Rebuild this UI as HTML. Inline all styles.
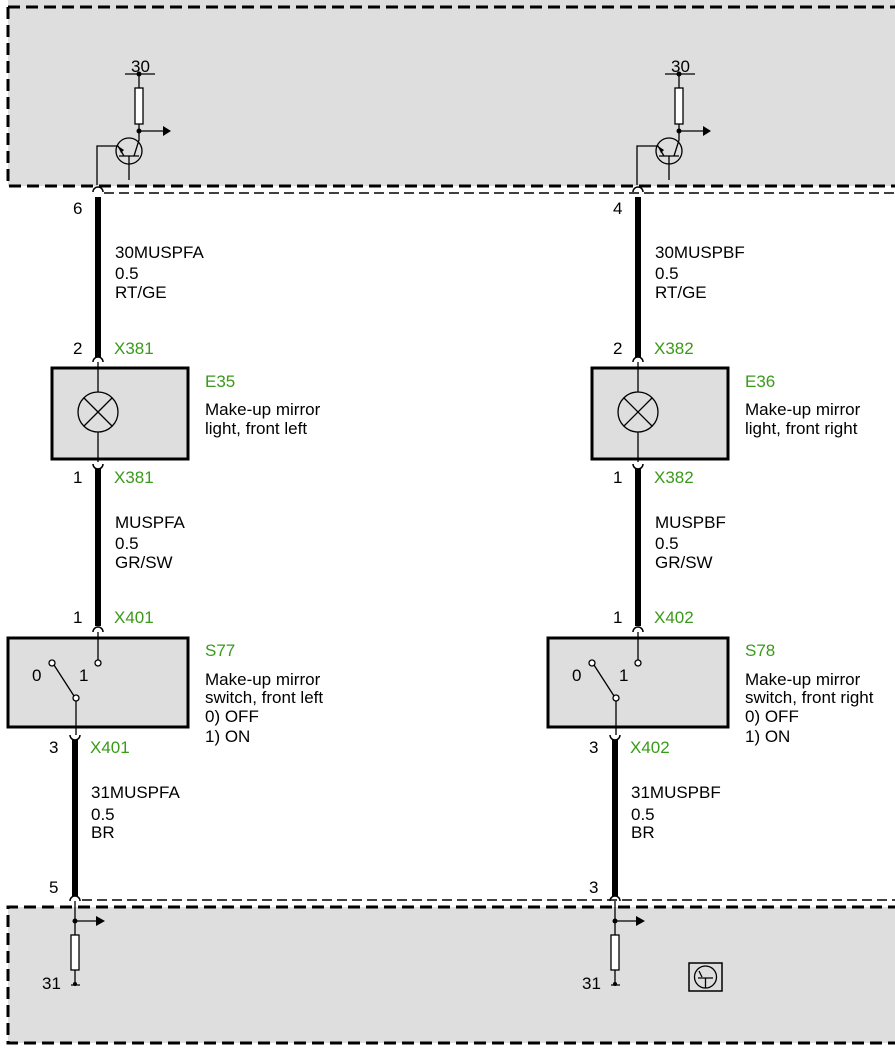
<!DOCTYPE html>
<html><head><style>
body{margin:0;background:#fff}
svg{display:block;font-family:"Liberation Sans",sans-serif;font-size:17px}
.g{fill:#3a9a1a}
</style></head><body>
<svg width="895" height="1050" viewBox="0 0 895 1050" xmlns="http://www.w3.org/2000/svg">
<rect x="8" y="-10" width="900" height="196" fill="#dedede"/>
<path d="M8 7 H900 M8 7 V186 H900" fill="none" stroke="#000" stroke-width="3" stroke-dasharray="12,6"/>
<path d="M104 193 H900" stroke="#000" stroke-width="1.5" stroke-dasharray="10,5"/>
<rect x="8" y="907" width="900" height="136" fill="#dedede"/>
<path d="M900 907 H8 V1043 H900" fill="none" stroke="#000" stroke-width="3" stroke-dasharray="12,6"/>
<path d="M82 900 H900" stroke="#000" stroke-width="1.5" stroke-dasharray="10,5"/>
<rect x="689" y="963" width="33" height="28" fill="none" stroke="#000" stroke-width="1.5"/>
<circle cx="705.5" cy="977" r="11" fill="none" stroke="#000" stroke-width="1.3"/>
<path d="M698 978 H713 M705.5 978 V988 M699 971 L702 977" stroke="#000" stroke-width="1.3" fill="none"/>

<g id="col">
<path d="M125 74 H155 M139 74 V88 M139 124 V131 H165" stroke="#000" stroke-width="1.3" fill="none"/>
<circle cx="139" cy="74" r="2.5"/><circle cx="139" cy="131" r="2.5"/>
<rect x="135" y="88" width="8" height="36" fill="#fff" stroke="#000" stroke-width="1.3"/>
<path d="M163 126 L171 131 L163 136 Z"/>
<text x="131" y="72">30</text>
<circle cx="129" cy="151" r="13" fill="none" stroke="#000" stroke-width="1.3"/>
<path d="M97 185 V146 H118 L124 156 M139 131 V140 L134 156 M119 156 H139 M129 156 V180" stroke="#000" stroke-width="1.3" fill="none"/>
<path d="M118 146 L124 150 L121 153 Z"/>
<path d="M93 192 A5 5 0 0 1 103 192" fill="none" stroke="#000" stroke-width="1.5"/>
<path d="M98 197 V357" stroke="#000" stroke-width="6"/>
<path d="M93 362 A5 5 0 0 1 103 362" fill="none" stroke="#000" stroke-width="1.5"/>
<text x="73" y="214">6</text>
<text x="115" y="258">30MUSPFA</text><text x="115" y="279">0.5</text><text x="115" y="298">RT/GE</text>
<text x="73" y="354">2</text><text x="114" y="354" class="g">X381</text>
<rect x="52" y="368" width="136" height="91" fill="#dedede" stroke="#000" stroke-width="3"/>
<path d="M98 362 V392 M98 432 V462" stroke="#000" stroke-width="1.3"/>
<circle cx="98" cy="412" r="20" fill="none" stroke="#000" stroke-width="1.3"/>
<path d="M84 398 L112 426 M112 398 L84 426" stroke="#000" stroke-width="1.3"/>
<text x="205" y="387" class="g">E35</text>
<text x="205" y="415">Make-up mirror</text><text x="205" y="434">light, front left</text>
<path d="M93 464 A5 5 0 0 0 103 464" fill="none" stroke="#000" stroke-width="1.5"/>
<path d="M98 469 V626" stroke="#000" stroke-width="6"/>
<text x="73" y="483">1</text><text x="114" y="483" class="g">X381</text>
<text x="115" y="528">MUSPFA</text><text x="115" y="549">0.5</text><text x="115" y="568">GR/SW</text>
<text x="73" y="623">1</text><text x="114" y="623" class="g">X401</text>
<path d="M93 632 A5 5 0 0 1 103 632" fill="none" stroke="#000" stroke-width="1.5"/>
<rect x="8" y="638" width="180" height="89" fill="#dedede" stroke="#000" stroke-width="3"/>
<path d="M98 632 V660 M76 701 V735 M54 665 L74 696" stroke="#000" stroke-width="1.3"/>
<circle cx="98" cy="663" r="3" fill="#fff" stroke="#000" stroke-width="1.3"/>
<circle cx="52" cy="663" r="3" fill="#fff" stroke="#000" stroke-width="1.3"/>
<circle cx="76" cy="698" r="3" fill="#fff" stroke="#000" stroke-width="1.3"/>
<text x="32" y="681">0</text><text x="79" y="681">1</text>
<text x="205" y="656" class="g">S77</text>
<text x="205" y="685">Make-up mirror</text><text x="205" y="703">switch, front left</text>
<text x="205" y="722">0) OFF</text><text x="205" y="742">1) ON</text>
<path d="M70 735 A5 5 0 0 0 80 735" fill="none" stroke="#000" stroke-width="1.5"/>
<path d="M75 740 V896" stroke="#000" stroke-width="6"/>
<text x="49" y="753">3</text><text x="90" y="753" class="g">X401</text>
<text x="91" y="798">31MUSPFA</text><text x="91" y="820">0.5</text><text x="91" y="838">BR</text>
<text x="49" y="893">5</text>
<path d="M70 901 A5 5 0 0 1 80 901" fill="none" stroke="#000" stroke-width="1.5"/>
<path d="M75 901 V935 M75 921 H97 M75 970 V984 M71 985 H80" stroke="#000" stroke-width="1.3"/>
<circle cx="75" cy="921" r="2.5"/><circle cx="75" cy="984" r="2"/>
<path d="M96 916 L105 921 L96 926 Z"/>
<rect x="71" y="935" width="8" height="35" fill="#fff" stroke="#000" stroke-width="1.3"/>
<text x="42" y="989">31</text>
</g>
<g transform="translate(540,0)">
<path d="M125 74 H155 M139 74 V88 M139 124 V131 H165" stroke="#000" stroke-width="1.3" fill="none"/>
<circle cx="139" cy="74" r="2.5"/><circle cx="139" cy="131" r="2.5"/>
<rect x="135" y="88" width="8" height="36" fill="#fff" stroke="#000" stroke-width="1.3"/>
<path d="M163 126 L171 131 L163 136 Z"/>
<text x="131" y="72">30</text>
<circle cx="129" cy="151" r="13" fill="none" stroke="#000" stroke-width="1.3"/>
<path d="M97 185 V146 H118 L124 156 M139 131 V140 L134 156 M119 156 H139 M129 156 V180" stroke="#000" stroke-width="1.3" fill="none"/>
<path d="M118 146 L124 150 L121 153 Z"/>
<path d="M93 192 A5 5 0 0 1 103 192" fill="none" stroke="#000" stroke-width="1.5"/>
<path d="M98 197 V357" stroke="#000" stroke-width="6"/>
<path d="M93 362 A5 5 0 0 1 103 362" fill="none" stroke="#000" stroke-width="1.5"/>
<text x="73" y="214">4</text>
<text x="115" y="258">30MUSPBF</text><text x="115" y="279">0.5</text><text x="115" y="298">RT/GE</text>
<text x="73" y="354">2</text><text x="114" y="354" class="g">X382</text>
<rect x="52" y="368" width="136" height="91" fill="#dedede" stroke="#000" stroke-width="3"/>
<path d="M98 362 V392 M98 432 V462" stroke="#000" stroke-width="1.3"/>
<circle cx="98" cy="412" r="20" fill="none" stroke="#000" stroke-width="1.3"/>
<path d="M84 398 L112 426 M112 398 L84 426" stroke="#000" stroke-width="1.3"/>
<text x="205" y="387" class="g">E36</text>
<text x="205" y="415">Make-up mirror</text><text x="205" y="434">light, front right</text>
<path d="M93 464 A5 5 0 0 0 103 464" fill="none" stroke="#000" stroke-width="1.5"/>
<path d="M98 469 V626" stroke="#000" stroke-width="6"/>
<text x="73" y="483">1</text><text x="114" y="483" class="g">X382</text>
<text x="115" y="528">MUSPBF</text><text x="115" y="549">0.5</text><text x="115" y="568">GR/SW</text>
<text x="73" y="623">1</text><text x="114" y="623" class="g">X402</text>
<path d="M93 632 A5 5 0 0 1 103 632" fill="none" stroke="#000" stroke-width="1.5"/>
<rect x="8" y="638" width="180" height="89" fill="#dedede" stroke="#000" stroke-width="3"/>
<path d="M98 632 V660 M76 701 V735 M54 665 L74 696" stroke="#000" stroke-width="1.3"/>
<circle cx="98" cy="663" r="3" fill="#fff" stroke="#000" stroke-width="1.3"/>
<circle cx="52" cy="663" r="3" fill="#fff" stroke="#000" stroke-width="1.3"/>
<circle cx="76" cy="698" r="3" fill="#fff" stroke="#000" stroke-width="1.3"/>
<text x="32" y="681">0</text><text x="79" y="681">1</text>
<text x="205" y="656" class="g">S78</text>
<text x="205" y="685">Make-up mirror</text><text x="205" y="703">switch, front right</text>
<text x="205" y="722">0) OFF</text><text x="205" y="742">1) ON</text>
<path d="M70 735 A5 5 0 0 0 80 735" fill="none" stroke="#000" stroke-width="1.5"/>
<path d="M75 740 V896" stroke="#000" stroke-width="6"/>
<text x="49" y="753">3</text><text x="90" y="753" class="g">X402</text>
<text x="91" y="798">31MUSPBF</text><text x="91" y="820">0.5</text><text x="91" y="838">BR</text>
<text x="49" y="893">3</text>
<path d="M70 901 A5 5 0 0 1 80 901" fill="none" stroke="#000" stroke-width="1.5"/>
<path d="M75 901 V935 M75 921 H97 M75 970 V984 M71 985 H80" stroke="#000" stroke-width="1.3"/>
<circle cx="75" cy="921" r="2.5"/><circle cx="75" cy="984" r="2"/>
<path d="M96 916 L105 921 L96 926 Z"/>
<rect x="71" y="935" width="8" height="35" fill="#fff" stroke="#000" stroke-width="1.3"/>
<text x="42" y="989">31</text>
</g>
</svg>
</body></html>
